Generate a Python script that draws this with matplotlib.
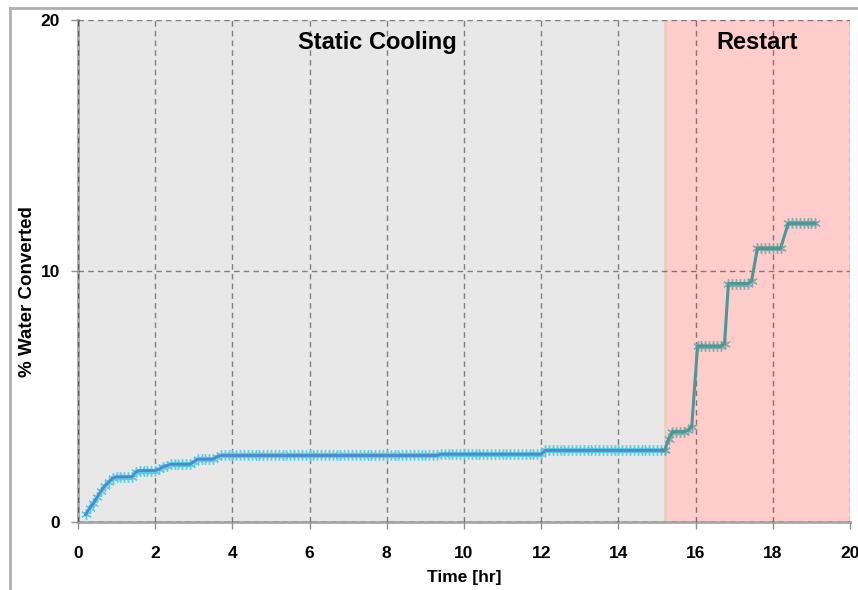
import matplotlib.pyplot as plt
from matplotlib.lines import Line2D

# static cooling phase (hr, % water converted), one row per hour
t_cool = [0.2, 0.3, 0.4, 0.5, 0.6, 0.7, 0.8, 0.9,
          1.0, 1.1, 1.2, 1.3, 1.4, 1.5, 1.6, 1.7, 1.8, 1.9,
          2.0, 2.1, 2.2, 2.3, 2.4, 2.5, 2.6, 2.7, 2.8, 2.9,
          3.0, 3.1, 3.2, 3.3, 3.4, 3.5, 3.6, 3.7, 3.8, 3.9,
          4.0, 4.1, 4.2, 4.3, 4.4, 4.5, 4.6, 4.7, 4.8, 4.9,
          5.0, 5.1, 5.2, 5.3, 5.4, 5.5, 5.6, 5.7, 5.8, 5.9,
          6.0, 6.1, 6.2, 6.3, 6.4, 6.5, 6.6, 6.7, 6.8, 6.9,
          7.0, 7.1, 7.2, 7.3, 7.4, 7.5, 7.6, 7.7, 7.8, 7.9,
          8.0, 8.1, 8.2, 8.3, 8.4, 8.5, 8.6, 8.7, 8.8, 8.9,
          9.0, 9.1, 9.2, 9.3, 9.4, 9.5, 9.6, 9.7, 9.8, 9.9,
          10.0, 10.1, 10.2, 10.3, 10.4, 10.5, 10.6, 10.7, 10.8, 10.9,
          11.0, 11.1, 11.2, 11.3, 11.4, 11.5, 11.6, 11.7, 11.8, 11.9,
          12.0, 12.1, 12.2, 12.3, 12.4, 12.5, 12.6, 12.7, 12.8, 12.9,
          13.0, 13.1, 13.2, 13.3, 13.4, 13.5, 13.6, 13.7, 13.8, 13.9,
          14.0, 14.1, 14.2, 14.3, 14.4, 14.5, 14.6, 14.7, 14.8, 14.9,
          15.0, 15.1, 15.2]
v_cool = [0.3, 0.55, 0.75, 1.0, 1.25, 1.45, 1.6, 1.75,
          1.8, 1.8, 1.8, 1.8, 1.8, 2.0, 2.05, 2.05, 2.05, 2.05,
          2.05, 2.1, 2.2, 2.25, 2.3, 2.3, 2.3, 2.3, 2.3, 2.3,
          2.4, 2.5, 2.5, 2.5, 2.5, 2.5, 2.6, 2.65, 2.65, 2.65,
          2.65, 2.65, 2.65, 2.65, 2.65, 2.65, 2.65, 2.65, 2.65, 2.65,
          2.65, 2.65, 2.65, 2.65, 2.65, 2.65, 2.65, 2.65, 2.65, 2.65,
          2.65, 2.65, 2.65, 2.65, 2.65, 2.65, 2.65, 2.65, 2.65, 2.65,
          2.65, 2.65, 2.65, 2.65, 2.65, 2.65, 2.65, 2.65, 2.65, 2.65,
          2.65, 2.65, 2.65, 2.65, 2.65, 2.65, 2.65, 2.65, 2.65, 2.65,
          2.65, 2.65, 2.65, 2.65, 2.7, 2.7, 2.7, 2.7, 2.7, 2.7,
          2.7, 2.7, 2.7, 2.7, 2.7, 2.7, 2.7, 2.7, 2.7, 2.7,
          2.7, 2.7, 2.7, 2.7, 2.7, 2.7, 2.7, 2.7, 2.7, 2.7,
          2.7, 2.85, 2.85, 2.85, 2.85, 2.85, 2.85, 2.85, 2.85, 2.85,
          2.85, 2.85, 2.85, 2.85, 2.85, 2.85, 2.85, 2.85, 2.85, 2.85,
          2.85, 2.85, 2.85, 2.85, 2.85, 2.85, 2.85, 2.85, 2.85, 2.85,
          2.85, 2.85, 2.85]

# restart phase
t_rest = [15.2, 15.3, 15.4, 15.5, 15.6, 15.7, 15.8, 15.9,
          16.05, 16.15, 16.25, 16.35, 16.45, 16.55, 16.65, 16.75,
          16.85, 16.95, 17.05, 17.15, 17.25, 17.35, 17.45,
          17.6, 17.7, 17.8, 17.9, 18.0, 18.1, 18.2,
          18.4, 18.5, 18.6, 18.7, 18.8, 18.9, 19.0, 19.1]
v_rest = [2.85, 3.3, 3.6, 3.6, 3.6, 3.6, 3.65, 3.8,
          7.0, 7.0, 7.0, 7.0, 7.0, 7.0, 7.0, 7.1,
          9.5, 9.5, 9.5, 9.5, 9.5, 9.5, 9.6,
          10.9, 10.9, 10.9, 10.9, 10.9, 10.9, 10.9,
          11.9, 11.9, 11.9, 11.9, 11.9, 11.9, 11.9, 11.9]

plt.rcParams['font.family'] = ['Liberation Sans', 'DejaVu Sans']

fig = plt.figure(figsize=(8.58, 5.9), dpi=100)
ax = fig.add_axes([78/858, 68/590, 772/858, 502/590])

ax.axvspan(0, 15.2, color='#e8e8e8', zorder=0)
ax.axvspan(15.2, 20, color='#ffcccc', zorder=0)
ax.axvline(15.2, color='#e8d0c0', lw=2, zorder=0.5)

# markers underneath, line drawn on top
ax.plot(t_cool, v_cool, ls='none', marker=(6, 2, 0), ms=7.5, mew=1,
        mec='#55cce0', alpha=0.9, zorder=3)
ax.plot(t_cool, v_cool, color='#4a8ad0', lw=2, zorder=4)
ax.plot(t_rest, v_rest, ls='none', marker=(6, 2, 0), ms=7.5, mew=1,
        mec='#80a8a8', alpha=0.9, zorder=3)
ax.plot(t_rest, v_rest, color='#4a9898', lw=2.2, zorder=4)

ax.set_xlim(0, 20)
ax.set_ylim(0, 20)
ax.set_xticks([0, 2, 4, 6, 8, 10, 12, 14, 16, 18, 20])
ax.set_yticks([0, 10, 20])
ax.grid(True, color='black', alpha=0.45, linestyle=(0, (4, 3)), linewidth=1, zorder=1)
ax.set_axisbelow(False)

for s in ['top', 'right']:
    ax.spines[s].set_visible(False)
for s in ['left', 'bottom']:
    ax.spines[s].set_color('#a8a8a8')
    ax.spines[s].set_linewidth(2)

ax.tick_params(axis='both', colors='#909090', labelcolor='black', length=5, width=1)
ax.tick_params(axis='x', pad=12)
ax.tick_params(axis='y', pad=8)
for lbl in ax.get_xticklabels() + ax.get_yticklabels():
    lbl.set_fontweight('bold')
    lbl.set_fontsize(12.5)

ax.set_xlabel('Time [hr]', fontsize=12.5, fontweight='bold', labelpad=7)
ax.set_ylabel('% Water Converted', fontsize=13.5, fontweight='bold')
ax.yaxis.set_label_coords(-0.055, 0.46)

ax.text(7.75, 19.1, 'Static Cooling', ha='center', va='center', fontsize=17, fontweight='bold')
ax.text(17.6, 19.1, 'Restart', ha='center', va='center', fontsize=17, fontweight='bold')

# outer chart frame
fig.add_artist(Line2D([10/858, 1], [1 - 8/590, 1 - 8/590], color='#b0b0b0', lw=2))
fig.add_artist(Line2D([10/858, 10/858], [0, 1 - 8/590], color='#b0b0b0', lw=2))

fig.savefig('out.png', dpi=100)
